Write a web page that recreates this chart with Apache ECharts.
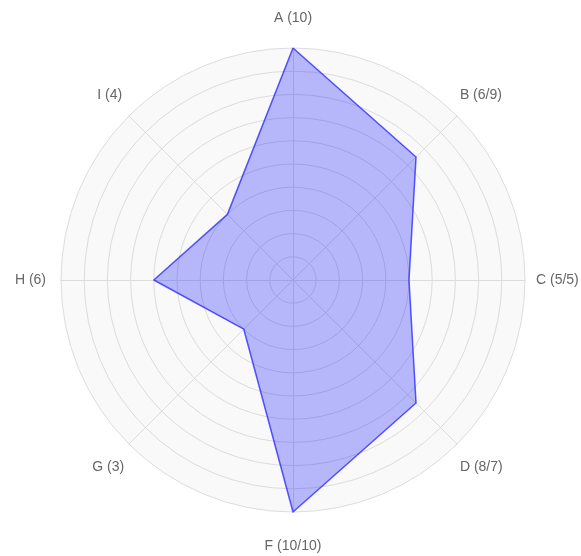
<!DOCTYPE html>
<html>
<head>
<meta charset="utf-8">
<script src="https://cdn.jsdelivr.net/npm/echarts@6/dist/echarts.min.js"></script>
<style>
  html, body { margin: 0; padding: 0; background: #fff; }
</style>
</head>
<body>
<div id="radar" style="width: 581px; height: 556px;"></div>
<script>
// echarts 雷达图是逆时针排列的，所以这里按 A -> I -> H ... -> B 的顺序写
var axisLabels = ['A (10)', 'I (4)', 'H (6)', 'G (3)', 'F (10/10)', 'D (8/7)', 'C (5/5)', 'B (6/9)'];
var plotValues = [10, 4, 6, 3, 10, 7.5, 5, 7.5];
var maxValue = 10;

// 每个标签用哪种 rich 样式（位置微调）
var labelStyleKey = ['top', 'upL', 'left', 'lowL', 'bottom', 'lowR', 'right', 'upR'];

var myChart = echarts.init(document.getElementById('radar'));
myChart.setOption({
  animation: false,
  radar: {
    center: [293, 280],
    radius: 232,
    shape: 'circle',
    startAngle: 90,
    splitNumber: 10,
    indicator: axisLabels.map(function (name) {
      return { name: name, max: maxValue, min: 0 };
    }),
    nameGap: 4,
    axisName: {
      color: '#666',
      fontSize: 14,
      fontFamily: 'Arial, "Liberation Sans", sans-serif',
      formatter: function (name) {
        var key = labelStyleKey[axisLabels.indexOf(name)];
        return '{' + key + '|' + name + '}';
      },
      rich: {
        top:    { color: '#666', fontSize: 14, lineHeight: 14, padding: [0, 0, 38, 0] },
        bottom: { color: '#666', fontSize: 14, lineHeight: 14, padding: [46, 0, 0, 0] },
        left:   { color: '#666', fontSize: 14, lineHeight: 14, padding: [0, 11, 0, 0] },
        right:  { color: '#666', fontSize: 14, lineHeight: 14, padding: [0, 0, 0, 7] },
        upL:    { color: '#666', fontSize: 14, lineHeight: 14, padding: [0, 4, 36, 0] },
        upR:    { color: '#666', fontSize: 14, lineHeight: 14, padding: [0, 0, 36, 0] },
        lowL:   { color: '#666', fontSize: 14, lineHeight: 14, padding: [40, 2, 0, 0] },
        lowR:   { color: '#666', fontSize: 14, lineHeight: 14, padding: [40, 0, 0, 0] }
      }
    },
    axisLine: {
      lineStyle: { color: '#dcdcdc', width: 1 }
    },
    splitLine: {
      lineStyle: { color: '#dcdcdc', width: 1 }
    },
    splitArea: {
      show: true,
      areaStyle: { color: ['#f9f9f9'] }
    }
  },
  series: [
    {
      type: 'radar',
      symbol: 'none',
      data: [
        {
          value: plotValues,
          lineStyle: { color: 'rgba(40,40,255,0.75)', width: 1.5 },
          areaStyle: { color: 'rgba(0,0,255,0.38)' }
        }
      ]
    }
  ]
});
</script>
</body>
</html>
